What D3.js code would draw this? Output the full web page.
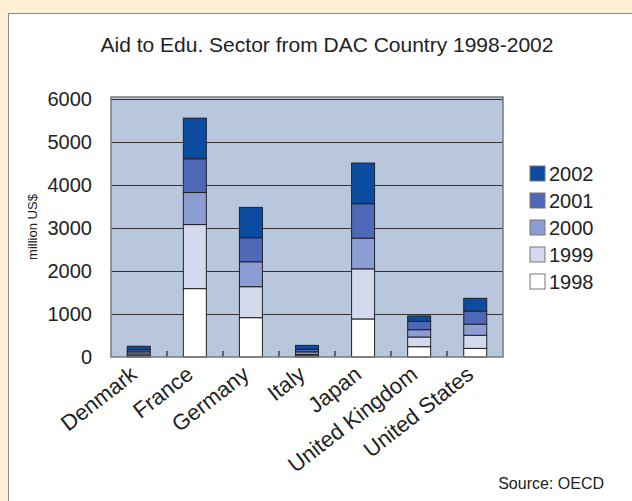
<!DOCTYPE html>
<html>
<head>
<meta charset="utf-8">
<script src="https://cdn.jsdelivr.net/npm/d3@7"></script>
<style>
  body { margin: 0; background: #fdefd3; }
  svg { display: block; font-family: "Liberation Sans", Arial, sans-serif; }
</style>
</head>
<body>
<div id="chart"></div>
<script>
// data (million US$)
let countries = ["Denmark", "France", "Germany", "Italy", "Japan", "United Kingdom", "United States"];
let years = ["1998", "1999", "2000", "2001", "2002"];
let v1998 = [30, 1590, 915, 30, 885, 240, 200];
let v1999 = [40, 1490, 720, 30, 1165, 225, 305];
let v2000 = [50, 745, 580, 60, 715, 170, 260];
let v2001 = [50, 785, 560, 60, 800, 195, 305];
let v2002 = [80, 945, 705, 90, 945, 125, 295];
let yTicks = [0, 1000, 2000, 3000, 4000, 5000, 6000];
let yearColors = ["#ffffff", "#d4daee", "#8c9dd3", "#4f67b7", "#0b4ca1"];

let W = 632, H = 501;
let margin = {top: 97, right: 129, bottom: 144, left: 111};
let width = W - margin.left - margin.right;
let height = H - margin.top - margin.bottom;

let svg = d3.select("#chart").append("svg")
    .attr("width", W)
    .attr("height", H);

// white panel
svg.append("rect")
    .attr("x", 8.5).attr("y", 13.5)
    .attr("width", W).attr("height", H)
    .attr("fill", "#fff")
    .attr("stroke", "#8a8a8a");

svg.append("text")
    .attr("x", 327).attr("y", 52)
    .attr("text-anchor", "middle")
    .attr("font-size", 21)
    .attr("fill", "#222")
    .text("Aid to Edu. Sector from DAC Country 1998-2002");

let g = svg.append("g")
    .attr("transform", `translate(${margin.left}, ${margin.top})`);

// stacked table built from the arrays
let table = countries.map((c, i) => ({
    country: c,
    "1998": v1998[i], "1999": v1999[i], "2000": v2000[i], "2001": v2001[i], "2002": v2002[i]
}));
let series = d3.stack().keys(years)(table);

let x = d3.scaleBand()
    .domain(countries)
    .range([0, width])
    .paddingInner(0.59)
    .paddingOuter(0.29);

let y = d3.scaleLinear()
    .domain([0, 6000])
    .range([height, 2]);

let color = d3.scaleOrdinal().domain(years).range(yearColors);

g.append("rect")
    .attr("width", width).attr("height", height)
    .attr("fill", "#b8c7de");

// gridlines
g.append("g")
    .selectAll("line")
    .data(yTicks.slice(1))
    .join("line")
    .attr("x1", 0).attr("x2", width)
    .attr("y1", d => Math.round(y(d)) + 0.5)
    .attr("y2", d => Math.round(y(d)) + 0.5)
    .attr("stroke", "#333")
    .attr("stroke-width", 1);

// bars
g.append("g")
    .selectAll("g")
    .data(series)
    .join("g")
    .attr("fill", d => color(d.key))
    .selectAll("rect")
    .data(d => d)
    .join("rect")
    .attr("x", d => x(d.data.country))
    .attr("y", d => y(d[1]))
    .attr("width", x.bandwidth())
    .attr("height", d => y(d[0]) - y(d[1]))
    .attr("stroke", "#222")
    .attr("stroke-width", 1);

// small category ticks pointing up from the baseline
let step = width / countries.length;
g.append("g")
    .selectAll("line")
    .data(countries.slice(1))
    .join("line")
    .attr("x1", (d, i) => step * (i + 1))
    .attr("x2", (d, i) => step * (i + 1))
    .attr("y1", height)
    .attr("y2", height - 6)
    .attr("stroke", "#222")
    .attr("stroke-width", 1.2);

g.append("rect")
    .attr("width", width).attr("height", height)
    .attr("fill", "none")
    .attr("stroke", "#7a7a7a")
    .attr("stroke-width", 1.5);

// y axis labels
let yAxis = d3.axisLeft(y).tickValues(yTicks).tickFormat(d3.format("d")).tickSize(0).tickPadding(19);
g.append("g")
    .call(yAxis)
    .call(a => a.select(".domain").remove())
    .selectAll("text")
    .attr("font-size", 20)
    .attr("font-family", "Liberation Sans, Arial, sans-serif")
    .attr("fill", "#222");

// x labels rotated
let xAxis = d3.axisBottom(x).tickSize(0).tickPadding(0);
g.append("g")
    .attr("transform", `translate(0, ${height})`)
    .call(xAxis)
    .call(a => a.select(".domain").remove())
    .selectAll("text")
    .attr("font-size", 22)
    .attr("font-family", "Liberation Sans, Arial, sans-serif")
    .attr("fill", "#222")
    .attr("text-anchor", "end")
    .attr("dy", "0.35em")
    .attr("transform", "translate(-5, 14) rotate(-38)");

svg.append("text")
    .attr("transform", `translate(37, ${margin.top + height / 2}) rotate(-90)`)
    .attr("text-anchor", "middle")
    .attr("font-size", 13)
    .attr("fill", "#222")
    .text("million US$");

// legend
let legend = svg.append("g")
    .attr("transform", "translate(530, 166)");
let legendItems = legend.selectAll("g")
    .data(years.slice().reverse())
    .join("g")
    .attr("transform", (d, i) => `translate(0, ${i * 27})`);
legendItems.append("rect")
    .attr("width", 15).attr("height", 15)
    .attr("fill", d => color(d))
    .attr("stroke", "#777");
legendItems.append("text")
    .attr("x", 19).attr("y", 8)
    .attr("dy", "0.35em")
    .attr("font-size", 20)
    .attr("fill", "#222")
    .text(d => d);

svg.append("text")
    .attr("x", 604).attr("y", 489)
    .attr("text-anchor", "end")
    .attr("font-size", 16)
    .attr("fill", "#222")
    .text("Source: OECD");
</script>
</body>
</html>
